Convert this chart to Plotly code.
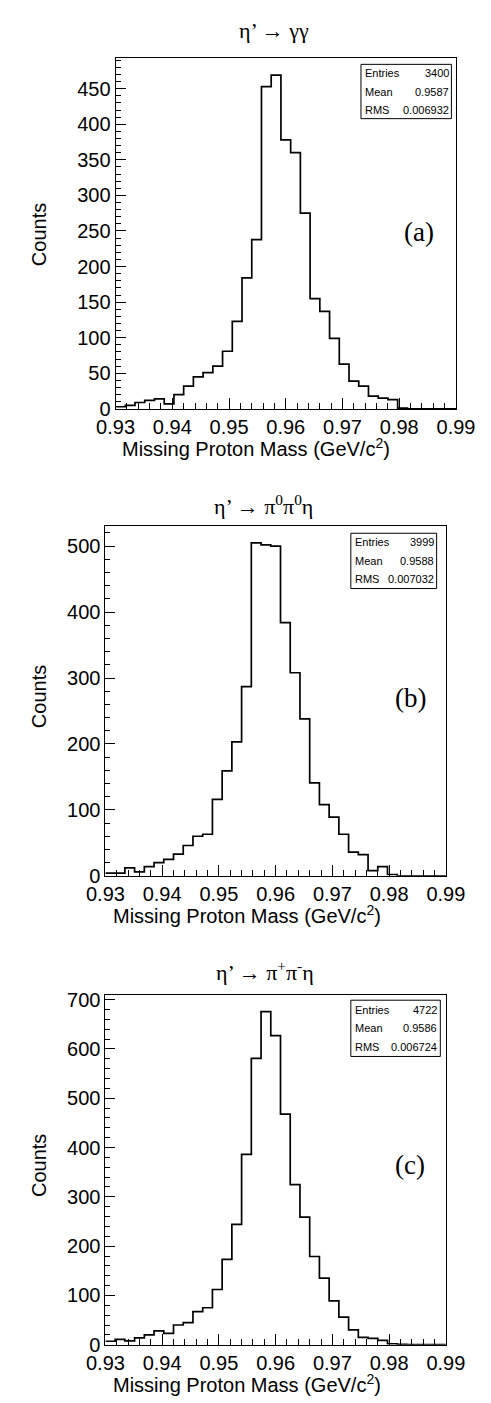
import numpy as np
import plotly.graph_objects as go

W, H = 491, 1403

# binning of the missing-mass histograms (35 bins over the shown range)
x_lo, x_hi = 0.93, 0.99
n_bins = 35
edges = np.linspace(x_lo, x_hi, n_bins + 1)

# bin contents
counts_gg = [3, 5, 9, 12, 14, 7, 20, 32, 45, 51, 60, 81, 123, 184, 238, 453, 469, 378,
             360, 275, 155, 137, 99, 63, 39, 32, 18, 15, 13, 1, 0, 0, 0, 0, 0]
counts_pi0 = [4, 4, 12, 6, 14, 20, 25, 33, 46, 60, 63, 116, 159, 203, 287, 505, 502, 500,
              384, 308, 238, 141, 108, 89, 63, 36, 32, 8, 14, 2, 0, 0, 0, 0, 0]
counts_pipm = [7, 11, 8, 14, 20, 28, 23, 40, 45, 67, 75, 112, 173, 244, 386, 581, 676, 627,
               468, 325, 259, 179, 135, 89, 56, 30, 15, 13, 9, 2, 1, 0, 0, 0, 0]

titles = ["η’ → γγ", "η’ → π<sup>0</sup>π<sup>0</sup>η", "η’ → π<sup>+</sup>π<sup>-</sup>η"]
tags = ["(a)", "(b)", "(c)"]
entries = ["3400", "3999", "4722"]
means = ["0.9587", "0.9588", "0.9586"]
rms = ["0.006932", "0.007032", "0.006724"]
y_tops = [492.5, 530, 709]
y_major = [50, 100, 100]
y_minor = [10, 20, 20]
x_tick_vals = [0.93, 0.94, 0.95, 0.96, 0.97, 0.98, 0.99]
x_title = "Missing Proton Mass (GeV/c<sup>2</sup>)"

# pixel layout of each pad: frame (x0, x1, y0, y1), title, tag centre, stat box
pads = [
    dict(frame=(96, 465, 44, 399), title=(268, 16), tag=(425, 220),
         box=(362, 460, 50, 105), xlab=(248, 438), ylab=(13, 222)),
    dict(frame=(85, 454, 518, 872), title=(256, 496), tag=(416, 692),
         box=(351, 444, 525, 581), xlab=(238, 911), ylab=(13, 690)),
    dict(frame=(85, 454, 993, 1347), title=(258, 968), tag=(415, 1165),
         box=(351, 448, 998, 1055), xlab=(238, 1386), ylab=(13, 1165)),
]

SANS = "Liberation Sans, Arial, Helvetica, sans-serif"
SERIF = "Liberation Serif, Times New Roman, serif"


def px(x):
    return x / W


def py(y):
    return 1 - y / H


fig = go.Figure()
annotations = []
shapes = []

for i, counts in enumerate([counts_gg, counts_pi0, counts_pipm]):
    p = pads[i]
    x0, x1, y0, y1 = p["frame"]
    sfx = "" if i == 0 else str(i + 1)
    fig.add_trace(go.Scatter(
        x=edges, y=list(counts) + [counts[-1]],
        mode="lines", line=dict(color="black", width=1.7, shape="hv"),
        xaxis="x" + sfx, yaxis="y" + sfx, showlegend=False, hoverinfo="skip",
    ))
    fig.update_layout(**{
        "xaxis" + sfx: dict(
            domain=[px(x0), px(x1)], anchor="y" + sfx, range=[x_lo, x_hi],
            tickvals=x_tick_vals, tickformat=".2f",
            ticks="inside", ticklen=11, tickwidth=1, tickcolor="black",
            minor=dict(dtick=0.002, tick0=0.93, ticks="inside", ticklen=6,
                       tickcolor="black", tickwidth=1),
            showline=True, linecolor="black", linewidth=1, mirror=True,
            showgrid=False, zeroline=False,
            tickfont=dict(family=SANS, size=20, color="black"),
        ),
        "yaxis" + sfx: dict(
            domain=[py(y1), py(y0)], anchor="x" + sfx, range=[0, y_tops[i]],
            dtick=y_major[i], tick0=0,
            ticks="inside", ticklen=10, tickwidth=1, tickcolor="black",
            minor=dict(dtick=y_minor[i], ticks="inside", ticklen=5,
                       tickcolor="black", tickwidth=1),
            showline=True, linecolor="black", linewidth=1, mirror=True,
            showgrid=False, zeroline=False,
            tickfont=dict(family=SANS, size=20, color="black"),
        ),
    })

    # titles and labels
    tx, ty = p["title"]
    annotations.append(dict(x=px(tx), y=py(ty), xref="paper", yref="paper",
                            text=titles[i], showarrow=False,
                            font=dict(family=SERIF, size=22, color="black"),
                            xanchor="center", yanchor="middle"))
    gx, gy = p["tag"]
    annotations.append(dict(x=px(gx), y=py(gy), xref="paper", yref="paper",
                            text=tags[i], showarrow=False,
                            font=dict(family=SERIF, size=27, color="black"),
                            xanchor="center", yanchor="middle"))
    lx, ly = p["xlab"]
    annotations.append(dict(x=px(lx), y=py(ly), xref="paper", yref="paper",
                            text=x_title, showarrow=False,
                            font=dict(family=SANS, size=20, color="black"),
                            xanchor="center", yanchor="middle"))
    cx, cy = p["ylab"]
    annotations.append(dict(x=px(cx), y=py(cy), xref="paper", yref="paper",
                            text="Counts", showarrow=False, textangle=-90,
                            font=dict(family=SANS, size=20, color="black"),
                            xanchor="center", yanchor="middle"))

    # stat box
    bx0, bx1, by0, by1 = p["box"]
    shapes.append(dict(type="rect", xref="paper", yref="paper",
                       x0=px(bx0), x1=px(bx1), y0=py(by1), y1=py(by0),
                       line=dict(color="black", width=1), fillcolor="white"))
    row_h = (by1 - by0) / 3
    for r, (lab, val) in enumerate(zip(["Entries", "Mean", "RMS"],
                                       [entries[i], means[i], rms[i]])):
        yc = by0 + row_h * (r + 0.5)
        annotations.append(dict(x=px(bx0 + 3), y=py(yc), xref="paper", yref="paper",
                                text=lab, showarrow=False, xanchor="left",
                                yanchor="middle", borderpad=0,
                                font=dict(family=SANS, size=11, color="black")))
        annotations.append(dict(x=px(bx1 - 2), y=py(yc), xref="paper", yref="paper",
                                text=val, showarrow=False, xanchor="right",
                                yanchor="middle", borderpad=0,
                                font=dict(family=SANS, size=11, color="black")))

fig.update_layout(
    width=W, height=H,
    margin=dict(l=0, r=0, t=0, b=0),
    paper_bgcolor="white", plot_bgcolor="white",
    annotations=annotations, shapes=shapes,
)

fig.write_html("out.html")
